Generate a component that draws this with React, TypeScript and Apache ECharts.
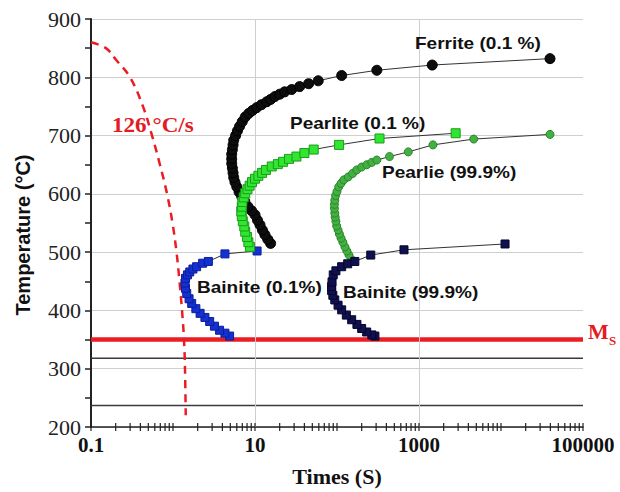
import React, { useEffect, useRef } from "react";
import * as echarts from "echarts";

// ---- data (time in s, temperature in °C) ----
const xTickLabels = ["0.1", "10", "1000", "100000"];
const yRange = [200, 900];
const timeRange = [0.1, 100000];
const xMinorTickValues = [
  0.1, 0.2, 0.3, 0.4, 0.5, 0.6, 0.7, 0.8, 0.9,
  1, 2, 3, 4, 5, 6, 7, 8, 9,
  10, 20, 30, 40, 50, 60, 70, 80, 90,
  100, 200, 300, 400, 500, 600, 700, 800, 900,
  1000, 2000, 3000, 4000, 5000, 6000, 7000, 8000, 9000,
  10000, 20000, 30000, 40000, 50000, 60000, 70000, 80000, 90000,
  100000,
];
const verticalGridTimes = [10, 1000];
const msTemp = 350;
const darkLineTemps = [318, 237];

const coolingCurve: [number, number][] = [
  [0.1, 860], [0.152, 850], [0.202, 830], [0.299, 800], [0.43, 750], [0.555, 700],
  [0.693, 650], [0.846, 600], [0.986, 550], [1.104, 500], [1.2, 450], [1.288, 400],
  [1.362, 350], [1.4, 300], [1.43, 220],
];

const ferrite: [number, number][] = [
  [15.5, 515], [14.3, 522], [13.2, 530], [12.3, 538], [11.5, 547], [10.7, 555], [10.0, 564],
  [9.1, 571], [8.2, 578], [7.5, 587], [6.9, 595], [6.4, 603], [6.0, 612], [5.7, 620],
  [5.5, 628], [5.4, 636], [5.3, 644], [5.2, 652], [5.2, 660], [5.2, 668], [5.3, 676],
  [5.4, 684], [5.5, 692], [5.8, 700], [6.1, 708], [6.5, 716], [7.0, 724], [7.6, 732],
  [8.4, 738], [9.3, 743], [10.5, 748], [12.0, 753], [13.9, 758], [15.5, 762], [17.5, 767],
  [20, 771], [23, 775], [28, 779], [35, 784], [45, 789], [59, 794], [114, 803], [306, 812],
  [1450, 821], [39600, 832],
];

const pearlite01: [number, number][] = [
  [8.7, 509], [8.3, 517], [8.0, 526], [7.6, 535], [7.4, 544], [7.1, 553], [6.9, 562],
  [6.8, 570], [6.9, 578], [7.0, 586], [7.3, 594], [7.6, 601], [8.1, 608], [8.6, 614],
  [9.2, 620], [10.0, 626], [11.0, 631], [12.2, 636], [13.6, 641], [16, 647], [19, 651],
  [22, 655], [26, 660], [32, 664], [40, 670], [52, 676], [106, 684], [330, 695], [2800, 704],
];

const pearlite999: [number, number][] = [
  [151, 487], [140, 495], [132, 502], [125, 509], [118, 517], [112, 524], [107, 531],
  [103, 538], [99, 545], [97, 553], [95, 560], [94, 567], [93, 575], [93, 582], [94, 589],
  [96, 597], [100, 604], [105, 612], [112, 618], [121, 624], [137, 629], [155, 635],
  [174, 641], [200, 646], [231, 650], [265, 654], [306, 658], [437, 664], [740, 672],
  [1480, 684], [4650, 694], [39600, 702],
];

const bainite01: [number, number][] = [
  [4.9, 356], [4.3, 361], [3.7, 366], [3.2, 373], [2.8, 381], [2.45, 388], [2.14, 395],
  [1.9, 403], [1.69, 412], [1.57, 420], [1.47, 429], [1.42, 438], [1.40, 447], [1.42, 455],
  [1.5, 461], [1.6, 466], [1.75, 471], [1.94, 475], [2.3, 481], [2.7, 484], [4.3, 497],
  [10.6, 502],
];

const bainite999: [number, number][] = [
  [290, 356], [266, 358], [230, 363], [200, 369], [175, 376], [151, 384], [130, 392],
  [114, 401], [103, 409], [94, 418], [89, 426], [86, 434], [86, 441], [87, 449], [90, 461],
  [97, 468], [114, 475], [135, 480], [165, 484], [258, 495], [656, 504], [11200, 514],
];

const SANS = "'Liberation Sans', Arial, sans-serif";
const SERIF = "'Liberation Serif', 'Times New Roman', serif";

function label(text: string, x: number, y: number, opts: any = {}) {
  return {
    type: "text",
    x,
    y,
    scaleX: opts.scaleX ?? 1.12,
    silent: true,
    z: 100,
    style: {
      text,
      fill: opts.fill ?? "#111",
      font: opts.font ?? `bold 17px ${SANS}`,
      textAlign: opts.align ?? "left",
      align: opts.align ?? "left",
      textVerticalAlign: "middle",
      verticalAlign: "middle",
    },
  };
}

export default function App() {
  const ref = useRef<HTMLDivElement>(null);
  useEffect(() => {
    if (!ref.current) return;
    const chart = echarts.init(ref.current, null, { renderer: "svg" });
    const markerSeries = (name: string, data: [number, number][], symbol: string, size: number, color: string, border: string) => ({
      name,
      type: "line",
      data,
      symbol,
      symbolSize: size,
      showAllSymbol: true,
      itemStyle: { color, borderColor: border, borderWidth: 1 },
      lineStyle: { color: "#333", width: 1 },
      z: 5,
    });
    const option: any = {
      animation: false,
      backgroundColor: "#fff",
      grid: { left: 91, right: 37, top: 19, bottom: 65 },
      xAxis: {
        type: "log",
        logBase: 10,
        min: timeRange[0],
        max: timeRange[1],
        name: "Times (S)",
        nameLocation: "middle",
        nameGap: 38,
        nameTextStyle: { fontFamily: SERIF, fontWeight: "bold", fontSize: 22, color: "#111" },
        axisLine: { lineStyle: { color: "#222", width: 1.5 } },
        axisTick: { show: false },
        splitLine: { show: false },
        axisLabel: {
          margin: 7,
          fontFamily: SERIF,
          fontWeight: "bold",
          fontSize: 21,
          color: "#111",
          showMinLabel: true,
          showMaxLabel: true,
          formatter: (v: number) => {
            const lab = xTickLabels.find((s) => Math.abs(Math.log10(Number(s)) - Math.log10(v)) < 1e-6);
            return lab ?? "";
          },
        },
      },
      yAxis: {
        type: "value",
        min: yRange[0],
        max: yRange[1],
        interval: 100,
        name: "Temperature (°C)",
        nameLocation: "middle",
        nameGap: 58,
        nameTextStyle: { fontFamily: SANS, fontWeight: "bold", fontSize: 20, color: "#111", padding: [0, 24, 0, 0] },
        axisLine: { show: true, lineStyle: { color: "#222", width: 2 } },
        axisTick: { show: true, length: 6, lineStyle: { color: "#222", width: 1.5 } },
        minorTick: { show: true, splitNumber: 2, length: 6, lineStyle: { color: "#222", width: 1.5 } },
        splitLine: { show: true, lineStyle: { color: "#cfcfcf", width: 1 } },
        axisLabel: { margin: 10, fontFamily: SERIF, fontSize: 22, color: "#222" },
      },
      series: [
        {
          name: "vgrid",
          type: "line",
          data: [],
          silent: true,
          markLine: {
            silent: true,
            symbol: "none",
            label: { show: false },
            lineStyle: { color: "#cfcfcf", width: 1, type: "solid" },
            data: verticalGridTimes.map((t) => ({ xAxis: t })),
          },
          z: 1,
        },
        ...darkLineTemps.map((T, i) => ({
          name: "dark" + i,
          type: "line",
          data: [[timeRange[0], T], [timeRange[1], T]],
          symbol: "none",
          lineStyle: { color: "#3a3a3a", width: 1.5 },
          silent: true,
          z: 2,
        })),
        {
          name: "Ms",
          type: "line",
          data: [[timeRange[0], msTemp], [timeRange[1], msTemp]],
          symbol: "none",
          lineStyle: { color: "#ec1c24", width: 4.5 },
          silent: true,
          z: 3,
        },
        {
          name: "126 °C/s",
          type: "line",
          data: coolingCurve,
          smooth: 0.4,
          symbol: "none",
          lineStyle: { color: "#ec1c24", width: 2.5, type: [8, 6] },
          silent: true,
          z: 4,
        },
        {
          name: "ticks",
          type: "custom",
          data: xMinorTickValues.map((v) => [v, yRange[0]]),
          silent: true,
          clip: false,
          z: 6,
          renderItem: (params: any, api: any) => {
            const p = api.coord([api.value(0), api.value(1)]);
            return {
              type: "line",
              shape: { x1: p[0], y1: p[1] - 4, x2: p[0], y2: p[1] + 4 },
              style: { stroke: "#222", lineWidth: 1.2 },
            };
          },
        },
        markerSeries("Ferrite (0.1 %)", ferrite, "circle", 10, "#0d0d0d", "#000"),
        markerSeries("Bainite (0.1%)", bainite01, "rect", 8, "#1530d0", "#0b1f9a"),
        markerSeries("Pearlite (0.1 %)", pearlite01, "rect", 9, "#30e630", "#1c9c1c"),
        markerSeries("Pearlie (99.9%)", pearlite999, "circle", 8, "#42b142", "#2a852a"),
        markerSeries("Bainite (99.9%)", bainite999, "rect", 8, "#10104e", "#05052e"),
      ],
      graphic: [
        label("Ferrite (0.1 %)", 415, 43),
        label("Pearlite (0.1 %)", 290, 123),
        label("Pearlie (99.9%)", 382, 172),
        label("Bainite (0.1%)", 197, 287),
        label("Bainite (99.9%)", 343, 292),
        label("126 °C/s", 112, 125, { font: `bold 21px ${SERIF}`, fill: "#e31b23", scaleX: 1.1 }),
        label("M", 588, 332, { font: `bold 20px ${SERIF}`, fill: "#e31b23", scaleX: 1.1 }),
        label("S", 609, 340, { font: `bold 13px ${SERIF}`, fill: "#e31b23", scaleX: 1.0 }),
      ],
    };
    chart.setOption(option);
    return () => chart.dispose();
  }, []);
  return <div ref={ref} style={{ position: "absolute", left: 0, top: 0, width: 620, height: 492 }} />;
}
